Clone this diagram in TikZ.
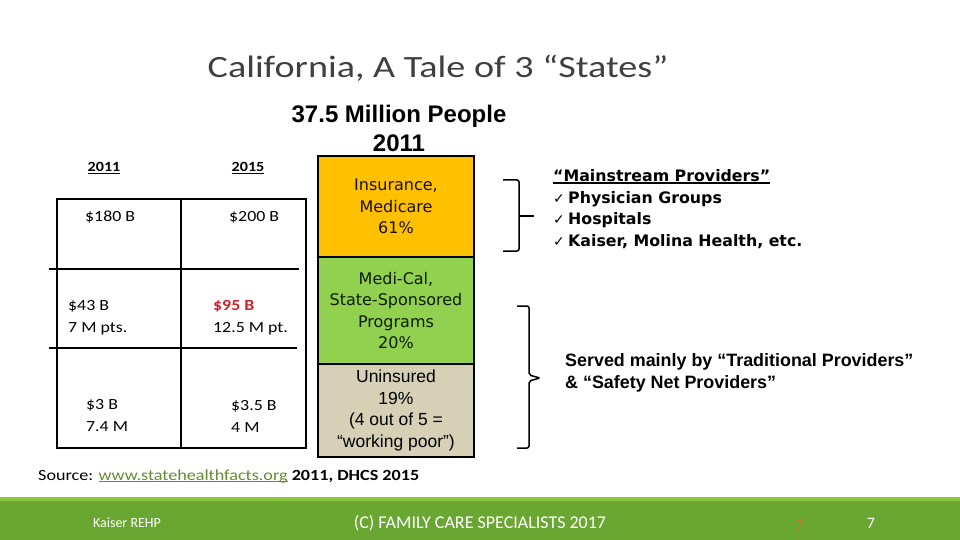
\documentclass[tikz,border=0pt]{standalone}
\usepackage{fontspec}
\usepackage{graphicx}
\setmainfont{Carlito}
\newfontfamily\dvs{DejaVu Sans}
\newfontfamily\lib{Liberation Sans}
\definecolor{cins}{HTML}{FFC000}
\definecolor{cmed}{HTML}{92D050}
\definecolor{cuni}{HTML}{D6D0B6}
\definecolor{ctitle}{HTML}{404040}
\definecolor{cfoot}{HTML}{6AA632}
\definecolor{cstripe}{HTML}{8CC63E}
\definecolor{clink}{HTML}{648C32}
\definecolor{cred}{HTML}{D2202A}
\definecolor{corange}{HTML}{C07828}
\definecolor{cinstxt}{HTML}{1A1200}
\definecolor{cmedtxt}{HTML}{0E1C00}
\newsavebox\ulbox
\newcommand{\myul}[2][0.9pt]{\sbox\ulbox{#2}\rlap{\rule[-2pt]{\wd\ulbox}{#1}}\usebox\ulbox}
\newcommand{\sx}[1]{\scalebox{1.15}[1]{#1}}
\newcommand{\ck}{\makebox[15pt][l]{\dvs\fontsize{14}{14}\selectfont ✓}}
\begin{document}
\begin{tikzpicture}[x=1pt,y=-1pt,
  tline/.style={line width=1.6pt, black},
  celltext/.style={anchor=west, inner sep=0pt, align=left, font=\fontsize{15.5}{22}\selectfont},
  headtext/.style={inner sep=0pt, font=\fontsize{14}{16}\selectfont\bfseries},
  seg/.style={draw=black, line width=1.6pt, minimum width=156pt, inner sep=0pt, align=center},
  segdv/.style={font=\dvs\fontsize{16}{21.6}\selectfont},
  bracket/.style={line width=1.5pt, black, rounded corners=2pt},
  foottext/.style={inner sep=0pt, text=white}]
\useasboundingbox (0,0) rectangle (960,540);
\fill[white] (0,0) rectangle (960,540);

% title
\node[inner sep=0pt, text=ctitle, font=\fontsize{31}{36}\selectfont] (title) at (438,68) {\scalebox{1.23}[1]{California, A Tale of 3 “States”}};

% table
\draw[tline] (57,199) rectangle (306,448);
\draw[tline] (181,199) -- (181,448);
\draw[tline] (49,269) -- (299,269);
\draw[tline] (49,348) -- (297,348);
\node[headtext] (h1) at (104,168) {\sx{\myul{2011}}};
\node[headtext] (h2) at (248,168) {\sx{\myul{2015}}};
\node[celltext] (c11) at (85,217) {\sx{\$180 B}};
\node[celltext] (c12) at (229,217) {\sx{\$200 B}};
\node[celltext] (c21) at (68,318) {\sx{\$43 B}\\\sx{7 M pts.}};
\node[celltext] (c22) at (213,318) {\sx{\textcolor{cred}{\textbf{\$95 B}}}\\\sx{12.5 M pt.}};
\node[celltext] (c31) at (86,416) {\sx{\$3 B}\\\sx{7.4 M}};
\node[celltext] (c32) at (231,416) {\sx{\$3.5 B}\\\sx{4 M}};

% stacked bar
\node[inner sep=0pt, align=center, font=\lib\bfseries\fontsize{24}{29}\selectfont] (pop) at (399,128) {37.5 Million People\\2011};
\node[seg, segdv, fill=cins, text=cinstxt, minimum height=101pt] (ins) at (396,206.5) {Insurance,\\Medicare\\61\%};
\node[seg, segdv, fill=cmed, text=cmedtxt, minimum height=107pt] (med) at (396,310.5) {Medi-Cal,\\State-Sponsored\\Programs\\20\%};
\node[seg, fill=cuni, text=black, minimum height=93pt, font=\lib\fontsize{17.5}{21.7}\selectfont] (uni) at (396,410.5) {Uninsured\\19\%\\(4 out of 5 =\\“working poor”)};

% brackets
\draw[bracket] (503,180) -- (519,180) -- (519,251) -- (503,251);
\coordinate (b1) at (519,216);
\coordinate (b1t) at (534,216);
\draw[line width=1.5pt] (b1) -- (b1t);
\draw[bracket] (517,306) -- (529,306) -- (529,375) -- (540,378) -- (529,381) -- (529,448) -- (517,448);

% right texts
\node[anchor=west, inner sep=0pt, align=left, font=\dvs\bfseries\fontsize{15.8}{21.5}\selectfont] (mains) at (553,209)
  {\myul[1.2pt]{“Mainstream Providers”}\\\ck Physician Groups\\\ck Hospitals\\\ck Kaiser, Molina Health, etc.};
\node[anchor=west, inner sep=0pt, align=left, font=\lib\bfseries\fontsize{17.9}{22}\selectfont] (served) at (565,373)
  {Served mainly by “Traditional Providers”\\\& “Safety Net Providers”};

% source
\node[anchor=west, inner sep=0pt, font=\fontsize{15.5}{18}\selectfont] (src) at (38,476)
  {\scalebox{1.17}[1]{Source: \textcolor{clink}{\myul{www.statehealthfacts.org}} \textbf{2011, DHCS 2015}}};

% footer
\fill[cfoot] (0,497) rectangle (960,540);
\fill[cstripe] (0,497) rectangle (960,501);
\node[foottext, font=\fontsize{14}{16}\selectfont] (kai) at (127,523) {Kaiser REHP};
\node[foottext, font=\fontsize{18}{20}\selectfont] (copy) at (480,523) {(C) FAMILY CARE SPECIALISTS 2017};
\node[inner sep=0pt, text=corange, font=\fontsize{14}{16}\selectfont] (n1) at (800,525) {7};
\node[foottext, font=\fontsize{16}{18}\selectfont] (n2) at (871,523) {7};
\end{tikzpicture}
\end{document}
